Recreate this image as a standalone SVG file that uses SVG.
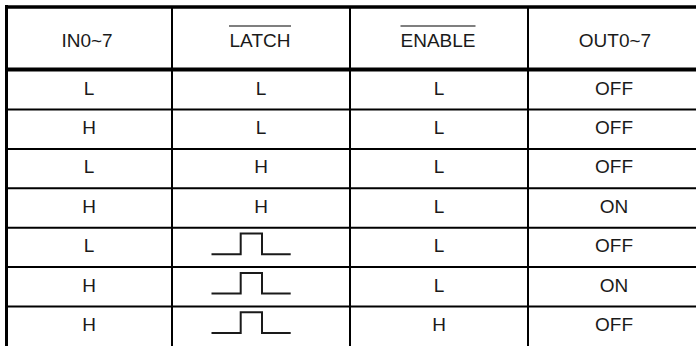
<svg xmlns="http://www.w3.org/2000/svg" width="696" height="346" viewBox="0 0 696 346">
<style>
.t{font-family:"Liberation Sans",Arial,sans-serif;font-size:19px;fill:#1a1a1a;text-anchor:middle}
.thick{stroke:#000;fill:none}
.thin{stroke:#000;stroke-width:2;fill:none}
.ov{stroke:#555;stroke-width:1.5}
.pulse{stroke:#1a1a1a;stroke-width:2;fill:none}
</style>
<defs>
<path id="pulse" class="pulse" d="M211.5 26.5 H240.7 V5.8 H262 V26.5 H290.7"/>
</defs>
<rect width="696" height="346" fill="#fff"/>
<g id="grid">
<line class="thick" x1="5" y1="7" x2="696" y2="7" stroke-width="3.5"/>
<line class="thick" x1="6.5" y1="5" x2="6.5" y2="346" stroke-width="3"/>
<line class="thick" x1="5" y1="69.5" x2="696" y2="69.5" stroke-width="4"/>
<line class="thin" x1="172" y1="7" x2="172" y2="346"/>
<line class="thin" x1="350" y1="7" x2="350" y2="346"/>
<line class="thin" x1="528" y1="7" x2="528" y2="346"/>
<line class="thin" x1="5" y1="109.5" x2="696" y2="109.5"/>
<line class="thin" x1="5" y1="148.9" x2="696" y2="148.9"/>
<line class="thin" x1="5" y1="188.3" x2="696" y2="188.3"/>
<line class="thin" x1="5" y1="227.7" x2="696" y2="227.7"/>
<line class="thin" x1="5" y1="267.1" x2="696" y2="267.1"/>
<line class="thin" x1="5" y1="306.5" x2="696" y2="306.5"/>
</g>
<g id="header">
<text class="t" x="87" y="47">IN0~7</text>
<text class="t" x="260" y="47">LATCH</text>
<line class="ov" x1="229" y1="26" x2="291" y2="26"/>
<text class="t" x="438" y="47">ENABLE</text>
<line class="ov" x1="400.5" y1="26" x2="475.5" y2="26"/>
<text class="t" x="615" y="47">OUT0~7</text>
</g>
<g id="row1">
<text class="t" x="89" y="94.5">L</text><text class="t" x="261" y="94.5">L</text><text class="t" x="439" y="94.5">L</text><text class="t" x="614" y="94.5">OFF</text>
</g>
<g id="row2">
<text class="t" x="89" y="134">H</text><text class="t" x="261" y="134">L</text><text class="t" x="439" y="134">L</text><text class="t" x="614" y="134">OFF</text>
</g>
<g id="row3">
<text class="t" x="89" y="173.4">L</text><text class="t" x="261" y="173.4">H</text><text class="t" x="439" y="173.4">L</text><text class="t" x="614" y="173.4">OFF</text>
</g>
<g id="row4">
<text class="t" x="89" y="212.8">H</text><text class="t" x="261" y="212.8">H</text><text class="t" x="439" y="212.8">L</text><text class="t" x="614" y="212.8">ON</text>
</g>
<g id="row5">
<text class="t" x="89" y="252.2">L</text><use href="#pulse" y="227.7"/><text class="t" x="439" y="252.2">L</text><text class="t" x="614" y="252.2">OFF</text>
</g>
<g id="row6">
<text class="t" x="89" y="291.6">H</text><use href="#pulse" y="267.1"/><text class="t" x="439" y="291.6">L</text><text class="t" x="614" y="291.6">ON</text>
</g>
<g id="row7">
<text class="t" x="89" y="331">H</text><use href="#pulse" y="306.5"/><text class="t" x="439" y="331">H</text><text class="t" x="614" y="331">OFF</text>
</g>
</svg>
